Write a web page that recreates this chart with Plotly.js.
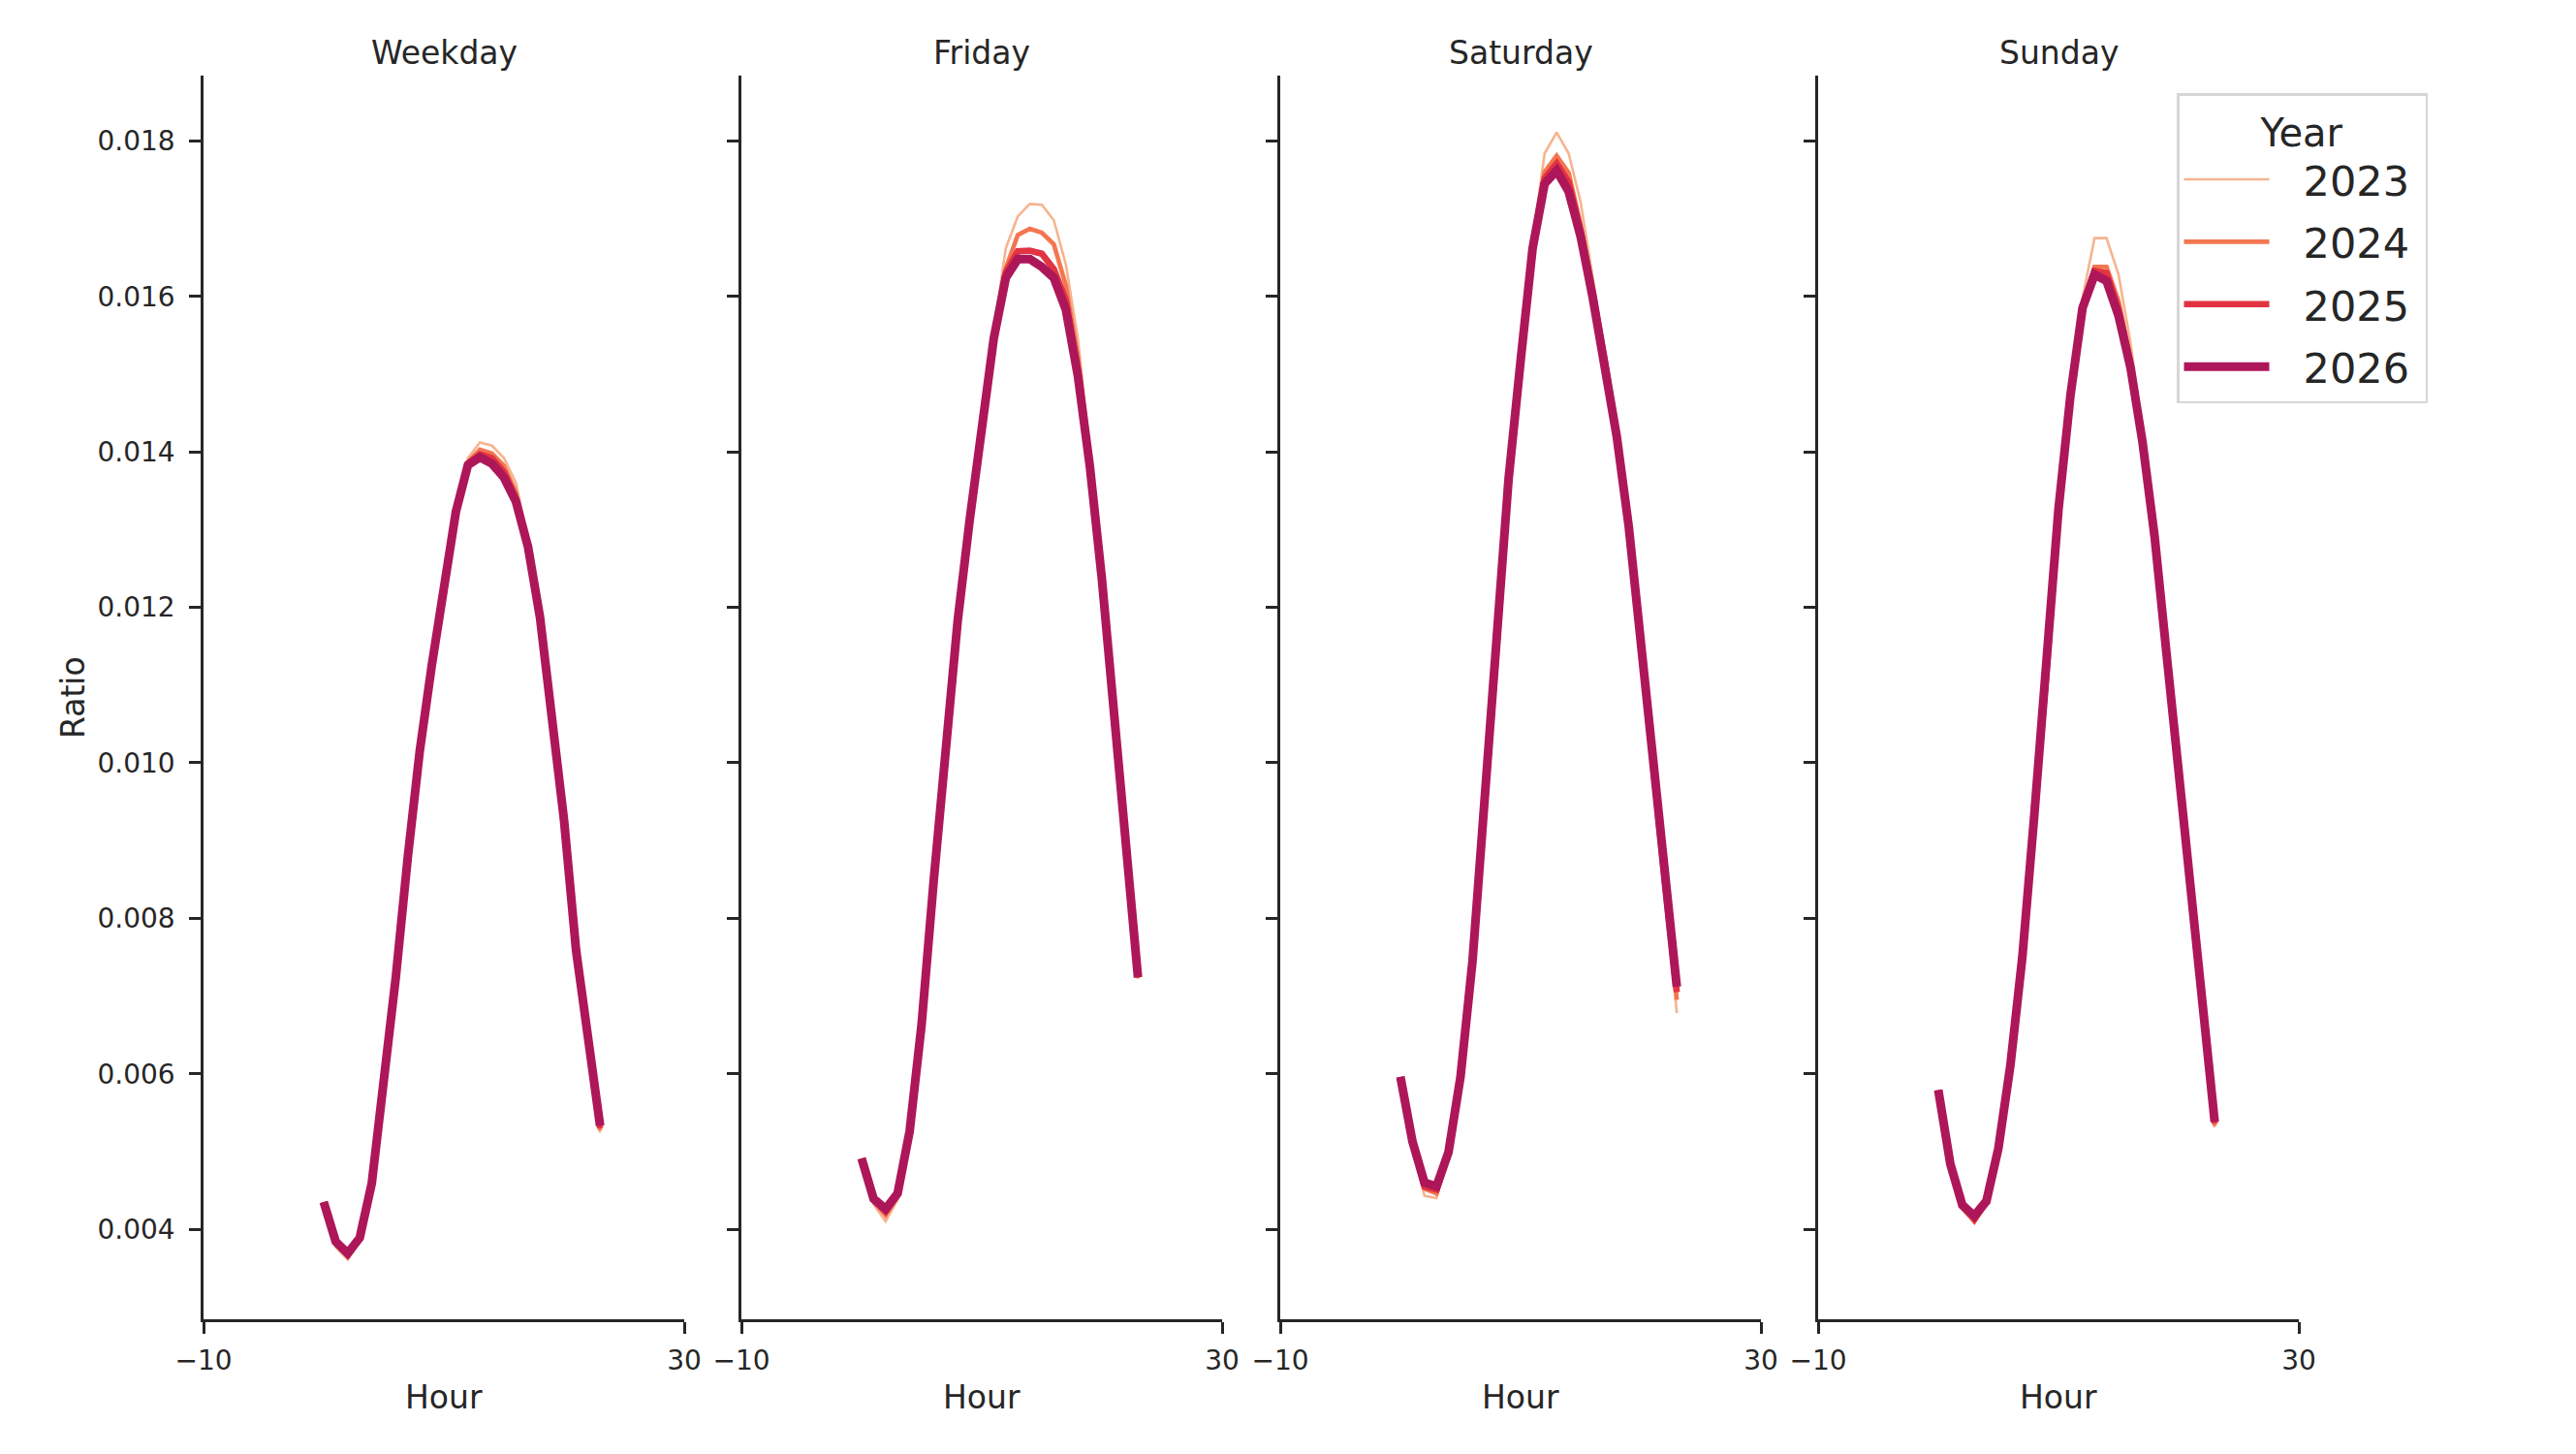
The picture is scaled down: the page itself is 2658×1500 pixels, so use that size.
<!DOCTYPE html>
<html>
<head>
<meta charset="utf-8">
<script src="https://cdn.plot.ly/plotly-3.0.1.min.js"></script>
<style>
  html, body { margin: 0; padding: 0; background: #fff; }
  #plot { width: 2658px; height: 1500px; }
</style>
</head>
<body>
<div id="plot"></div>
<script>
var hours = [0, 1, 2, 3, 4, 5, 6, 7, 8, 9, 10, 11, 12, 13, 14, 15, 16, 17, 18, 19, 20, 21, 22, 23];
var years = ['2023', '2024', '2025', '2026'];
var panels = ['Weekday', 'Friday', 'Saturday', 'Sunday'];

// Weekday
var wk2023 = [0.00433, 0.00377, 0.00361, 0.00384, 0.00457, 0.00583, 0.00723, 0.00878, 0.01016, 0.01127, 0.01233, 0.01327, 0.01392, 0.01412, 0.01408, 0.01392, 0.01360, 0.01287, 0.01190, 0.01065, 0.00926, 0.00758, 0.00638, 0.00524];
var wk2024 = [0.00434, 0.00381, 0.00365, 0.00387, 0.00458, 0.00584, 0.00724, 0.00879, 0.01016, 0.01126, 0.01232, 0.01325, 0.01387, 0.01403, 0.01398, 0.01382, 0.01348, 0.01282, 0.01188, 0.01064, 0.00926, 0.00759, 0.00639, 0.00527];
var wk2025 = [0.00435, 0.00383, 0.00367, 0.00388, 0.00459, 0.00584, 0.00724, 0.00879, 0.01016, 0.01126, 0.01231, 0.01324, 0.01385, 0.01397, 0.01392, 0.01374, 0.01340, 0.01279, 0.01187, 0.01064, 0.00926, 0.00759, 0.00640, 0.00530];
var wk2026 = [0.00435, 0.00384, 0.00369, 0.00389, 0.00459, 0.00584, 0.00724, 0.00879, 0.01016, 0.01126, 0.01231, 0.01323, 0.01383, 0.01393, 0.01385, 0.01367, 0.01336, 0.01278, 0.01187, 0.01064, 0.00926, 0.00759, 0.00640, 0.00533];

// Friday
var fr2023 = [0.00488, 0.00432, 0.00410, 0.00438, 0.00522, 0.00662, 0.00847, 0.01023, 0.01184, 0.01316, 0.01436, 0.01555, 0.01662, 0.01703, 0.01719, 0.01718, 0.01698, 0.01641, 0.01546, 0.01400, 0.01242, 0.01063, 0.00877, 0.00722];
var fr2024 = [0.00490, 0.00436, 0.00418, 0.00442, 0.00524, 0.00663, 0.00848, 0.01023, 0.01183, 0.01314, 0.01433, 0.01550, 0.01636, 0.01679, 0.01687, 0.01682, 0.01667, 0.01614, 0.01522, 0.01390, 0.01239, 0.01062, 0.00877, 0.00723];
var fr2025 = [0.00491, 0.00438, 0.00423, 0.00445, 0.00525, 0.00664, 0.00848, 0.01023, 0.01183, 0.01313, 0.01431, 0.01547, 0.01631, 0.01658, 0.01659, 0.01655, 0.01635, 0.01595, 0.01505, 0.01384, 0.01237, 0.01061, 0.00877, 0.00724];
var fr2026 = [0.00491, 0.00439, 0.00426, 0.00446, 0.00526, 0.00664, 0.00848, 0.01023, 0.01183, 0.01313, 0.01430, 0.01546, 0.01624, 0.01648, 0.01648, 0.01638, 0.01624, 0.01583, 0.01498, 0.01381, 0.01236, 0.01061, 0.00877, 0.00724];

// Saturday
var sa2023 = [0.00594, 0.00508, 0.00443, 0.00440, 0.00492, 0.00593, 0.00744, 0.00941, 0.01146, 0.01368, 0.01522, 0.01672, 0.01784, 0.01811, 0.01784, 0.01721, 0.01625, 0.01527, 0.01426, 0.01305, 0.01157, 0.00990, 0.00840, 0.00678];
var sa2024 = [0.00595, 0.00510, 0.00452, 0.00446, 0.00495, 0.00594, 0.00745, 0.00940, 0.01145, 0.01366, 0.01519, 0.01668, 0.01760, 0.01781, 0.01759, 0.01692, 0.01610, 0.01521, 0.01422, 0.01304, 0.01158, 0.00992, 0.00845, 0.00695];
var sa2025 = [0.00596, 0.00512, 0.00455, 0.00451, 0.00497, 0.00595, 0.00745, 0.00940, 0.01145, 0.01365, 0.01518, 0.01664, 0.01752, 0.01771, 0.01747, 0.01684, 0.01603, 0.01518, 0.01421, 0.01304, 0.01158, 0.00993, 0.00847, 0.00705];
var sa2026 = [0.00596, 0.00513, 0.00460, 0.00455, 0.00499, 0.00596, 0.00745, 0.00940, 0.01145, 0.01365, 0.01517, 0.01662, 0.01745, 0.01762, 0.01735, 0.01677, 0.01599, 0.01517, 0.01420, 0.01304, 0.01158, 0.00993, 0.00848, 0.00712];

// Sunday
var su2023 = [0.00577, 0.00480, 0.00425, 0.00408, 0.00432, 0.00502, 0.00610, 0.00751, 0.00936, 0.01117, 0.01330, 0.01478, 0.01598, 0.01675, 0.01675, 0.01628, 0.01540, 0.01425, 0.01298, 0.01142, 0.00985, 0.00829, 0.00673, 0.00531];
var su2024 = [0.00578, 0.00482, 0.00428, 0.00410, 0.00434, 0.00503, 0.00611, 0.00751, 0.00935, 0.01116, 0.01328, 0.01475, 0.01590, 0.01638, 0.01638, 0.01594, 0.01520, 0.01416, 0.01293, 0.01140, 0.00984, 0.00829, 0.00674, 0.00533];
var su2025 = [0.00579, 0.00483, 0.00430, 0.00413, 0.00435, 0.00504, 0.00611, 0.00751, 0.00935, 0.01115, 0.01327, 0.01474, 0.01587, 0.01633, 0.01630, 0.01583, 0.01512, 0.01413, 0.01292, 0.01139, 0.00984, 0.00829, 0.00674, 0.00536];
var su2026 = [0.00579, 0.00484, 0.00431, 0.00417, 0.00436, 0.00504, 0.00611, 0.00751, 0.00935, 0.01115, 0.01326, 0.01473, 0.01585, 0.01628, 0.01620, 0.01575, 0.01508, 0.01412, 0.01291, 0.01139, 0.00984, 0.00829, 0.00674, 0.00538];

var yTicks = [0.004, 0.006, 0.008, 0.010, 0.012, 0.014, 0.016, 0.018];
var xTicks = [-10, 30];

var panelData = [
    [wk2023, wk2024, wk2025, wk2026],
    [fr2023, fr2024, fr2025, fr2026],
    [sa2023, sa2024, sa2025, sa2026],
    [su2023, su2024, su2025, su2026],
];

var yearColors = ['#f6b48f', '#f37651', '#e13342', '#ad1759'];
var yearWidths = [2.6, 4.6, 6.6, 9];

var W = 2658, H = 1500;
var axisColor = '#262626';
var fontFamily = 'DejaVu Sans, sans-serif';

// panel edges in px
var panelLeft = [210, 765, 1321, 1876];
var panelWidth = 496;
var plotTop = 78, plotBottom = 1361;

function runPlot() {
    var plotdiv = document.querySelector('#plot');
    var data = [];
    var layout = {
        width: W,
        height: H,
        margin: { l: 0, r: 0, t: 0, b: 0 },
        paper_bgcolor: '#fff',
        plot_bgcolor: '#fff',
        font: { family: fontFamily, color: axisColor },
        showlegend: true,
        legend: {
            x: 2246 / W,
            y: 1 - 96 / H,
            xanchor: 'left',
            yanchor: 'top',
            bgcolor: '#fff',
            bordercolor: '#d6d6d6',
            borderwidth: 2.5,
            font: { family: fontFamily, size: 43, color: axisColor },
            title: { text: 'Year', side: 'top center', font: { family: fontFamily, size: 40, color: axisColor } },
            itemwidth: 88,
            tracegroupgap: 5.5,
        },
        annotations: [],
    };

    var yRange = [0.002841, 0.018841];

    for (var p = 0; p < panels.length; p++) {
        var suffix = p == 0 ? '' : String(p + 1);
        var xa = 'xaxis' + suffix;
        var ya = 'yaxis' + suffix;
        var x0 = panelLeft[p] / W;
        var x1 = (panelLeft[p] + panelWidth) / W;

        layout[xa] = {
            domain: [x0, x1],
            anchor: 'y' + suffix,
            range: [-10, 30],
            tickmode: 'array',
            tickvals: xTicks,
            ticks: 'outside',
            ticklen: 12,
            tickwidth: 2.5,
            tickcolor: axisColor,
            ticklabelstandoff: 4,
            showline: true,
            linewidth: 2.5,
            linecolor: axisColor,
            showgrid: false,
            zeroline: false,
            tickfont: { family: fontFamily, size: 28, color: axisColor },
            fixedrange: true,
        };
        layout[ya] = {
            domain: [1 - plotBottom / H, 1 - plotTop / H],
            anchor: 'x' + suffix,
            range: yRange,
            tickmode: 'array',
            tickvals: yTicks,
            ticktext: yTicks.map(function (v) { return v.toFixed(3); }),
            showticklabels: p == 0,
            ticks: 'outside',
            ticklen: 12,
            tickwidth: 2.5,
            tickcolor: axisColor,
            ticklabelstandoff: 9,
            showline: true,
            linewidth: 2.5,
            linecolor: axisColor,
            showgrid: false,
            zeroline: false,
            tickfont: { family: fontFamily, size: 28, color: axisColor },
            fixedrange: true,
        };

        for (var i = 0; i < years.length; i++) {
            data.push({
                x: hours,
                y: panelData[p][i],
                xaxis: 'x' + suffix,
                yaxis: 'y' + suffix,
                type: 'scatter',
                mode: 'lines',
                // spaces keep the gap between sample line and label, and the right padding
                name: '\u2002\u2009' + years[i] + '\u2005',
                legendgroup: years[i],
                showlegend: p == 0,
                line: { color: yearColors[i], width: yearWidths[i] },
                hovertemplate: panels[p] + ' ' + years[i] + '<br>%{x}: %{y}<extra></extra>',
            });
        }

        var cx = (panelLeft[p] + panelWidth / 2) / W;
        // panel title
        layout.annotations.push({
            text: panels[p],
            xref: 'paper', yref: 'paper',
            x: cx, y: 1 - 54 / H,
            xanchor: 'center', yanchor: 'middle',
            showarrow: false,
            font: { family: fontFamily, size: 33, color: axisColor },
        });
        // x axis title
        layout.annotations.push({
            text: 'Hour',
            xref: 'paper', yref: 'paper',
            x: cx, y: 1 - 1441 / H,
            xanchor: 'center', yanchor: 'middle',
            showarrow: false,
            font: { family: fontFamily, size: 33, color: axisColor },
        });
    }

    layout.annotations.push({
        text: 'Ratio',
        xref: 'paper', yref: 'paper',
        x: 75 / W, y: 1 - 720 / H,
        xanchor: 'center', yanchor: 'middle',
        textangle: -90,
        showarrow: false,
        font: { family: fontFamily, size: 33, color: axisColor },
    });

    var config = { displayModeBar: false };

    Plotly.newPlot(plotdiv, data, layout, config);
}

runPlot();
</script>
</body>
</html>
